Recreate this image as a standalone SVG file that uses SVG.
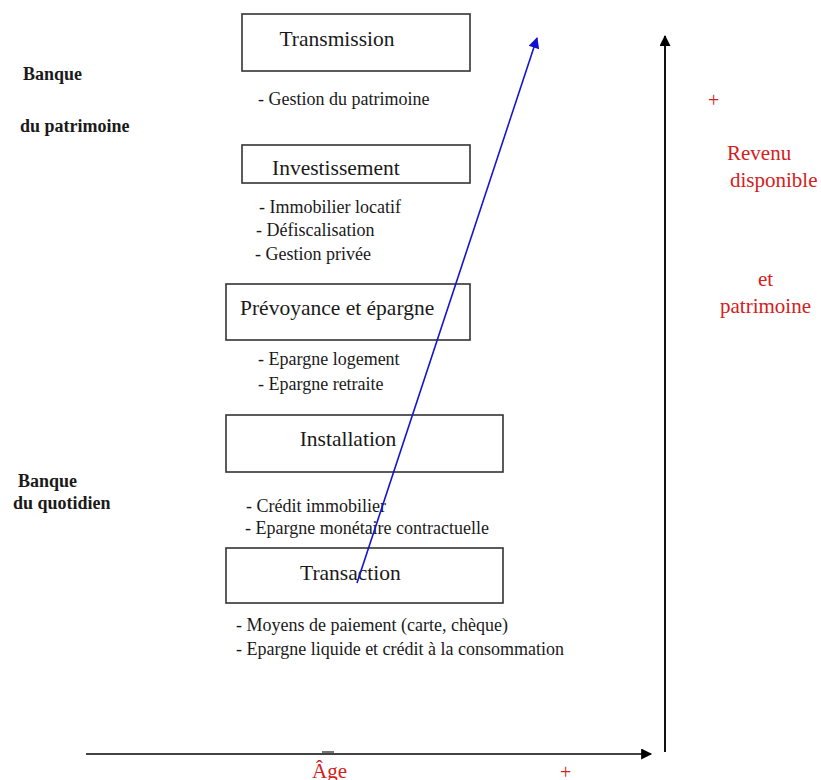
<svg xmlns="http://www.w3.org/2000/svg" width="821" height="780" viewBox="0 0 821 780">
<style>
  .box { fill: #ffffff; stroke: #333333; stroke-width: 1.6; }
  .title { font-family: "Liberation Serif", "Times New Roman", serif; font-size: 21.5px; fill: #1a1a1a; }
  .item { font-family: "Liberation Serif", "Times New Roman", serif; font-size: 18px; fill: #1a1a1a; }
  .side { font-family: "Liberation Serif", "Times New Roman", serif; font-size: 18px; font-weight: bold; fill: #1a1a1a; }
  .red { font-family: "Liberation Serif", "Times New Roman", serif; font-size: 21px; fill: #d42020; }
  .redsm { font-family: "Liberation Serif", "Times New Roman", serif; font-size: 20px; fill: #d42020; }
</style>
<defs>
  <marker id="blk" viewBox="0 0 10 10" refX="9" refY="5" markerWidth="12" markerHeight="11" markerUnits="userSpaceOnUse" orient="auto">
    <path d="M0,0 L10,5 L0,10 z" fill="#000000"/>
  </marker>
  <marker id="blue" viewBox="0 0 10 10" refX="9" refY="5" markerWidth="13" markerHeight="11" markerUnits="userSpaceOnUse" orient="auto">
    <path d="M0,0 L10,5 L0,10 z" fill="#1010d0"/>
  </marker>
</defs>
<rect width="821" height="780" fill="#ffffff"/>

<g id="label-patrimoine">
  <text class="side" x="23" y="80">Banque</text>
  <text class="side" x="20" y="132">du patrimoine</text>
</g>
<g id="label-quotidien">
  <text class="side" x="18" y="487">Banque</text>
  <text class="side" x="13" y="509">du quotidien</text>
</g>

<g id="node-transmission">
  <rect class="box" x="242" y="14" width="228" height="57"/>
  <text class="title" x="337" y="46" text-anchor="middle">Transmission</text>
  <text class="item" x="258" y="105">- Gestion du patrimoine</text>
</g>

<g id="node-investissement">
  <rect class="box" x="242" y="145" width="228" height="38"/>
  <text class="title" x="272" y="175">Investissement</text>
  <text class="item" x="259" y="213">- Immobilier locatif</text>
  <text class="item" x="256" y="236">-  Défiscalisation</text>
  <text class="item" x="255" y="260">- Gestion privée</text>
</g>

<g id="node-prevoyance">
  <rect class="box" x="226" y="284" width="244" height="56"/>
  <text class="title" x="240" y="315">Prévoyance et épargne</text>
  <text class="item" x="258" y="365">- Epargne logement</text>
  <text class="item" x="258" y="390">- Epargne retraite</text>
</g>

<g id="node-installation">
  <rect class="box" x="226" y="415" width="277" height="57"/>
  <text class="title" x="348" y="446" text-anchor="middle">Installation</text>
  <text class="item" x="246" y="512">- Crédit immobilier</text>
  <text class="item" x="245" y="534">- Epargne monétaire contractuelle</text>
</g>

<g id="node-transaction">
  <rect class="box" x="226" y="548" width="277" height="55"/>
  <text class="title" x="300" y="580">Transaction</text>
  <text class="item" x="236" y="631">- Moyens de paiement (carte, chèque)</text>
  <text class="item" x="236" y="655">- Epargne liquide et crédit à la consommation</text>
</g>

<g id="axis-labels">
  <text class="redsm" x="708" y="107">+</text>
  <text class="red" x="727" y="160">Revenu</text>
  <text class="red" x="730" y="187">disponible</text>
  <text class="red" x="758" y="286">et</text>
  <text class="red" x="720" y="313">patrimoine</text>
  <text class="red" x="312" y="778">Âge</text>
  <text class="redsm" x="560" y="779">+</text>
  <text class="redsm" x="106" y="790">–</text>
</g>

<g id="connectors">
  <line x1="357" y1="583" x2="537" y2="38" stroke="#1414d0" stroke-width="1.6" marker-end="url(#blue)"/>
  <line x1="665" y1="752" x2="665" y2="36" stroke="#111111" stroke-width="2" marker-end="url(#blk)"/>
  <line x1="86" y1="754" x2="651" y2="754" stroke="#444444" stroke-width="2" marker-end="url(#blk)"/>
  <line x1="322" y1="752" x2="334" y2="752" stroke="#444444" stroke-width="1.5"/>
</g>
</svg>
